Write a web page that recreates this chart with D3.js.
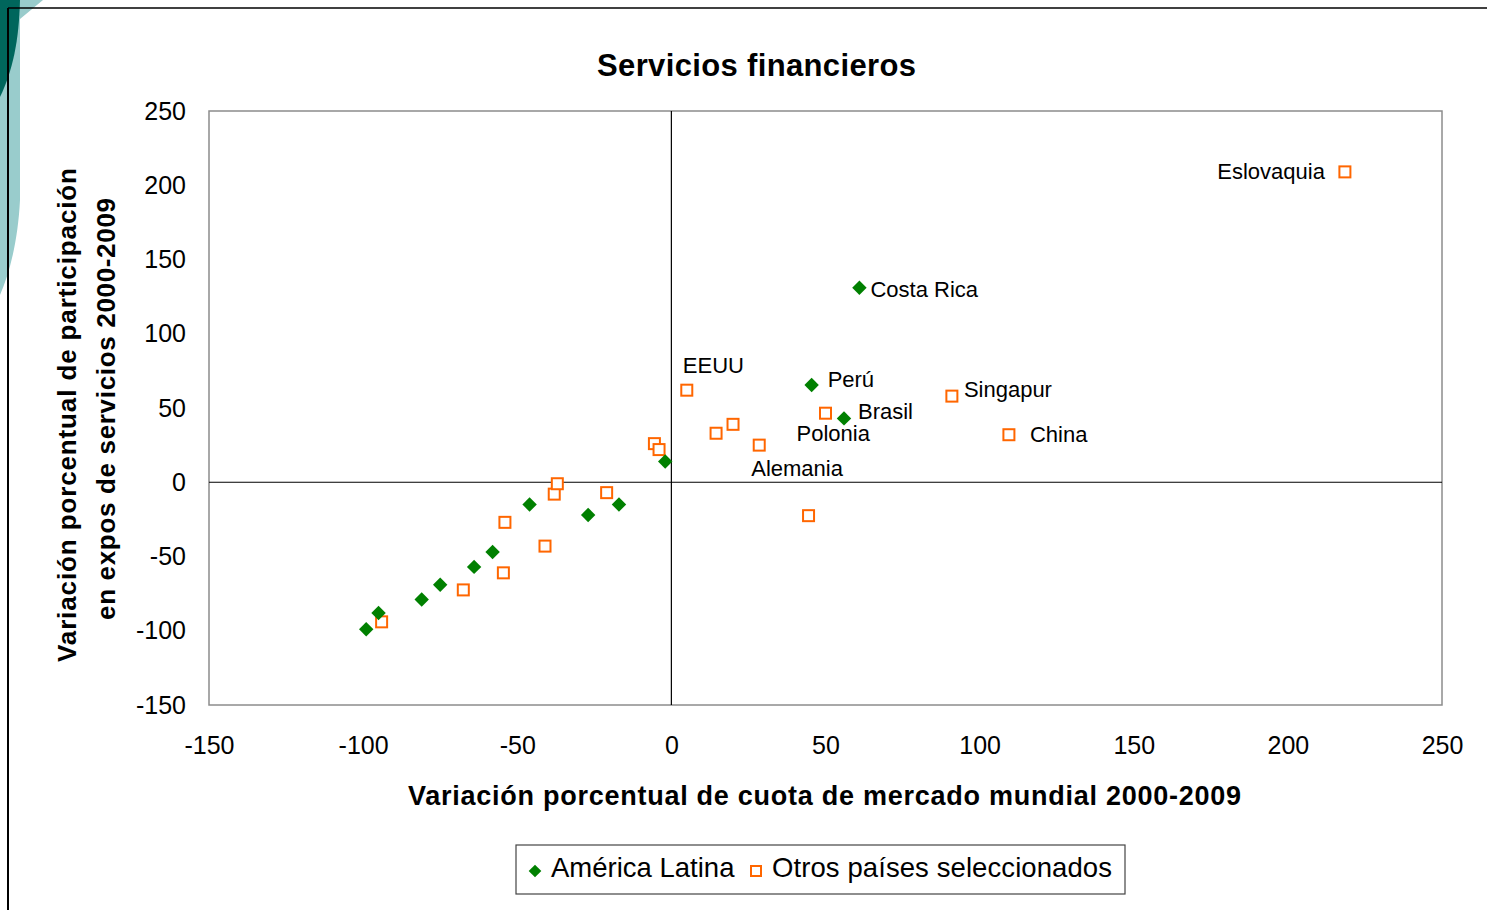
<!DOCTYPE html>
<html>
<head>
<meta charset="utf-8">
<script src="https://cdn.jsdelivr.net/npm/d3@7/dist/d3.min.js"></script>
<style>
  html, body { margin: 0; padding: 0; background: #fff; }
  svg { display: block; font-family: "Liberation Sans", Arial, sans-serif; }
</style>
</head>
<body>
<svg id="chart" width="1487" height="910"></svg>
<script>
// América Latina: change in world market share (x) vs change in services export share (y), 2000-2009
const latamNames = ["", "", "", "", "", "", "", "", "", "", "Perú", "Brasil", "Costa Rica"];
const latamX = [-99, -95, -81, -75, -64, -58, -46, -27, -17, -2, 45.5, 56, 61];
const latamY = [-99, -88, -79, -69, -57, -47, -15, -22, -15, 14, 65.5, 43, 131];

// Other selected countries
const otrosNames = ["", "", "", "", "", "", "", "", "", "", "EEUU", "", "", "Alemania", "Polonia", "Singapur", "China", "", "Eslovaquia"];
const otrosX = [-94, -67.5, -54.5, -54, -41, -38, -37, -21, -5.5, -4, 5, 14.5, 20, 28.5, 50, 91, 109.5, 44.5, 218.5];
const otrosY = [-94, -72.5, -61, -27, -43, -8, -1, -7, 26, 22, 62, 33, 39, 25, 46.5, 58, 32, -22.5, 209];

const xTicks = [-150, -100, -50, 0, 50, 100, 150, 200, 250];
const yTicks = [-150, -100, -50, 0, 50, 100, 150, 200, 250];

const seriesNames = ["América Latina", "Otros países seleccionados"];
const chartTitle = "Servicios financieros";
const xTitle = "Variación porcentual de cuota de mercado mundial 2000-2009";
const yTitleLines = ["Variación porcentual de participación", "en expos de servicios 2000-2009"];

// label placement relative to its marker: [dx, dy, anchor]
const labelPlacement = {
  "Perú": [16, 2, "start"],
  "Brasil": [14, 1, "start"],
  "Costa Rica": [11, 9, "start"],
  "EEUU": [-4, -17, "start"],
  "Alemania": [-8, 31, "start"],
  "Polonia": [-29, 28, "start"],
  "Singapur": [12, 1, "start"],
  "China": [21, 7, "start"],
  "Eslovaquia": [-20, 7, "end"]
};

const GREEN = "#008000";
const ORANGE = "#FF6600";

const svg = d3.select("#chart");

// corner decoration
svg.append("path")
  .attr("d", "M0,0 L43,0 L20,19 L20,200 C18,240 10,272 0,295 Z")
  .attr("fill", "#99CCCC");
svg.append("path")
  .attr("d", "M0,0 L20,0 C19,40 13,70 0,97 Z")
  .attr("fill", "#00665C");
// frame lines
svg.append("line").attr("x1", 8).attr("y1", 8).attr("x2", 1487).attr("y2", 8)
  .attr("stroke", "#000").attr("stroke-width", 1.5);
svg.append("line").attr("x1", 8).attr("y1", 8).attr("x2", 8).attr("y2", 910)
  .attr("stroke", "#000").attr("stroke-width", 2);

const plot = { left: 209, right: 1442, top: 111, bottom: 705 };

const x = d3.scaleLinear().domain([-150, 250]).range([plot.left, plot.right]);
const y = d3.scaleLinear().domain([-150, 250]).range([plot.bottom, plot.top]);

// plot area border
svg.append("rect")
  .attr("x", plot.left).attr("y", plot.top)
  .attr("width", plot.right - plot.left).attr("height", plot.bottom - plot.top)
  .attr("fill", "none").attr("stroke", "#8c8c8c").attr("stroke-width", 1.5);

// zero lines
svg.append("line")
  .attr("x1", x(0)).attr("x2", x(0)).attr("y1", plot.top).attr("y2", plot.bottom)
  .attr("stroke", "#000").attr("stroke-width", 1.2);
svg.append("line")
  .attr("x1", plot.left).attr("x2", plot.right).attr("y1", y(0)).attr("y2", y(0))
  .attr("stroke", "#000").attr("stroke-width", 1.2);

// axes (plain hyphen for negative numbers)
const plainNumber = d => String(d);

const xAxis = svg.append("g")
  .attr("transform", `translate(0,${plot.bottom})`)
  .call(d3.axisBottom(x).tickValues(xTicks).tickSize(0).tickFormat(plainNumber));
xAxis.select(".domain").remove();
xAxis.selectAll("text")
  .attr("y", 49).attr("dy", 0)
  .attr("font-size", 25).attr("fill", "#000")
  .attr("font-family", "'Liberation Sans', Arial, sans-serif");

const yAxis = svg.append("g")
  .attr("transform", `translate(${plot.left},0)`)
  .call(d3.axisLeft(y).tickValues(yTicks).tickSize(0).tickFormat(plainNumber));
yAxis.select(".domain").remove();
yAxis.selectAll("text")
  .attr("x", -23).attr("dy", 8)
  .attr("font-size", 25).attr("fill", "#000")
  .attr("font-family", "'Liberation Sans', Arial, sans-serif");

// titles
svg.append("text")
  .attr("x", 756.5).attr("y", 76)
  .attr("text-anchor", "middle")
  .attr("font-size", 31).attr("font-weight", "bold")
  .attr("textLength", 319).attr("lengthAdjust", "spacing")
  .text(chartTitle);

svg.append("text")
  .attr("x", 824.5).attr("y", 805)
  .attr("text-anchor", "middle")
  .attr("font-size", 27).attr("font-weight", "bold")
  .attr("textLength", 833).attr("lengthAdjust", "spacing")
  .text(xTitle);

const yTitlePos = [[76, 415, 494], [115, 409, 422]];
yTitleLines.forEach((line, i) => {
  const [tx, ty, len] = yTitlePos[i];
  svg.append("text")
    .attr("transform", `translate(${tx},${ty}) rotate(-90)`)
    .attr("text-anchor", "middle")
    .attr("font-size", 26).attr("font-weight", "bold")
    .attr("textLength", len).attr("lengthAdjust", "spacing")
    .text(line);
});

// markers
const latam = latamX.map((v, i) => ({ x: v, y: latamY[i], name: latamNames[i] }));
const otros = otrosX.map((v, i) => ({ x: v, y: otrosY[i], name: otrosNames[i] }));

svg.append("g").selectAll("rect")
  .data(otros).enter().append("rect")
  .attr("x", d => x(d.x) - 5.5).attr("y", d => y(d.y) - 5.5)
  .attr("width", 11).attr("height", 11)
  .attr("fill", "#fff").attr("stroke", ORANGE).attr("stroke-width", 2);

svg.append("g").selectAll("path")
  .data(latam).enter().append("path")
  .attr("d", d3.symbol().type(d3.symbolSquare).size(104))
  .attr("transform", d => `translate(${x(d.x)},${y(d.y)}) rotate(45)`)
  .attr("fill", GREEN);

// point labels
const labelled = latam.concat(otros).filter(d => d.name);
svg.append("g").selectAll("text")
  .data(labelled).enter().append("text")
  .attr("x", d => x(d.x) + labelPlacement[d.name][0])
  .attr("y", d => y(d.y) + labelPlacement[d.name][1])
  .attr("text-anchor", d => labelPlacement[d.name][2])
  .attr("font-size", 22).attr("fill", "#000")
  .text(d => d.name);

// legend
const legend = svg.append("g");
legend.append("rect")
  .attr("x", 516).attr("y", 845).attr("width", 609).attr("height", 49)
  .attr("fill", "#fff").attr("stroke", "#444").attr("stroke-width", 1.2);
legend.append("path")
  .attr("d", d3.symbol().type(d3.symbolSquare).size(80))
  .attr("transform", "translate(535,871) rotate(45)")
  .attr("fill", GREEN);
legend.append("text")
  .attr("x", 551).attr("y", 877)
  .attr("font-size", 27.5).attr("fill", "#000")
  .text(seriesNames[0]);
legend.append("rect")
  .attr("x", 751).attr("y", 866).attr("width", 10).attr("height", 10)
  .attr("fill", "#fff").attr("stroke", ORANGE).attr("stroke-width", 2);
legend.append("text")
  .attr("x", 772).attr("y", 877)
  .attr("font-size", 27.5).attr("fill", "#000")
  .attr("textLength", 340).attr("lengthAdjust", "spacing")
  .text(seriesNames[1]);
</script>
</body>
</html>
